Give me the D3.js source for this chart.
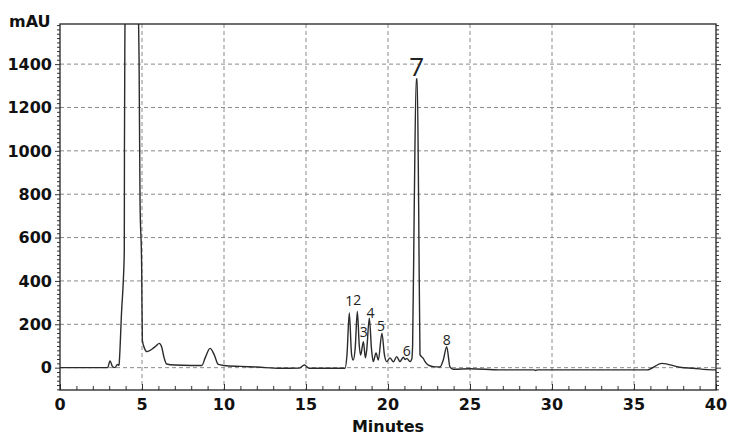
<!DOCTYPE html>
<html>
<head>
<meta charset="utf-8">
<script src="https://cdn.jsdelivr.net/npm/d3@7/dist/d3.min.js"></script>
<style>
  body { margin: 0; background: #fff; }
  svg { display: block; }
  .tick-label { font-family: "DejaVu Sans", sans-serif; font-weight: bold; font-size: 16px; fill: #111; }
  .peak-label { font-family: "Open Sans", sans-serif; font-size: 14px; fill: #222; }
</style>
</head>
<body>
<div id="chart"></div>
<script>
// chromatogram trace (minutes, mAU)
var times = [0, 2.9, 3.05, 3.2, 3.35, 3.5, 3.6, 3.62, 3.76, 3.86, 3.92, 3.93, 3.96, 4.0, 4.35, 4.72, 4.77, 4.82, 4.88, 4.98, 5.02,
  5.15, 5.3, 5.6, 5.85, 6.05, 6.2, 6.35, 6.5, 7.0, 8.0, 8.65, 8.85, 9.15, 9.4, 9.65, 10, 11, 12, 13.4,
  14.6, 14.9, 15.2, 17.38, 17.5, 17.64, 17.78, 17.88, 18.0, 18.13, 18.25, 18.33, 18.5, 18.62, 18.7, 18.86, 19.0, 19.1,
  19.27, 19.41, 19.63, 19.78, 19.92, 20.12, 20.33, 20.53, 20.73, 20.93, 21.04, 21.14, 21.34, 21.45, 21.5, 21.6, 21.72,
  21.78, 21.87, 21.95, 22.15, 22.26, 22.46, 22.76, 23.17, 23.37, 23.58, 23.78, 23.98, 25, 26.8, 28.9, 29.0, 29.1,
  35.8, 36.7, 37.8, 38.6, 39.8, 40];
var mau = [0, 0, 31, 5, 0, 15, 10, 30, 266, 400, 540, 1000, 1560, 1900, 3200, 1900, 1700, 1433, 773, 460, 127,
  90, 74, 85, 100, 112, 95, 45, 17, 12, 10, 10, 45, 89, 60, 15, 10, 6, 3, -3,
  -2, 12, -3, -3, 60, 252, 60, 35, 90, 259, 100, 58, 120, 45, 80, 228, 80, 28,
  68, 35, 159, 60, 28, 45, 27, 51, 28, 48, 38, 43, 28, 40, 100, 741, 1331,
  1331, 741, 60, 43, 28, 12, 5, 3, 35, 97, 3, -7, -5, -10, -10, -13, -10,
  -10, 20, 2, -3, -10, -10];

var peakNames = ["1", "2", "3", "4", "5", "6", "7", "8"];
var peakTimes = [17.64, 18.13, 18.52, 18.93, 19.58, 21.14, 21.75, 23.58];
var peakLabelY = [285, 290, 140, 230, 170, 55, 1345, 103];

var xTicks = [0, 5, 10, 15, 20, 25, 30, 35, 40];
var yTicks = [0, 200, 400, 600, 800, 1000, 1200, 1400];

var width = 729, height = 436;
var margin = {top: 24, right: 13, bottom: 46, left: 60};
var w = width - margin.left - margin.right;
var h = height - margin.top - margin.bottom;

var svg = d3.select("#chart").append("svg")
  .attr("width", width).attr("height", height);
var g = svg.append("g").attr("transform", "translate(" + margin.left + "," + margin.top + ")");

var x = d3.scaleLinear().domain([0, 40]).range([0, w]);
var y = d3.scaleLinear().domain([-103, 1585]).range([h, 0]);

// grid
g.append("g").selectAll("line").data(xTicks.slice(1, -1)).enter().append("line")
  .attr("x1", function(d) { return x(d); }).attr("x2", function(d) { return x(d); })
  .attr("y1", 0).attr("y2", h)
  .attr("stroke", "#8a8a8a").attr("stroke-dasharray", "4,3");
g.append("g").selectAll("line").data(yTicks).enter().append("line")
  .attr("y1", function(d) { return y(d); }).attr("y2", function(d) { return y(d); })
  .attr("x1", 0).attr("x2", w)
  .attr("stroke", "#8a8a8a").attr("stroke-dasharray", "4,3");

// axes: small ticks every 20 mAU on both sides, every minute along the bottom
var yMinor = d3.range(-100, 1590, 20);
var xMinor = d3.range(0, 41, 1);

var left = g.append("g").call(d3.axisLeft(y).tickValues(yMinor).tickSize(3).tickFormat(""));
var right = g.append("g").attr("transform", "translate(" + w + ",0)")
  .call(d3.axisRight(y).tickValues(yMinor).tickSize(3).tickFormat(""));
var bottom = g.append("g").attr("transform", "translate(0," + h + ")")
  .call(d3.axisBottom(x).tickValues(xMinor).tickSize(-4).tickFormat(""));
[left, right, bottom].forEach(function(a) {
  a.select(".domain").remove();
  a.selectAll(".tick line").attr("stroke", "#333");
});
left.selectAll(".tick line").filter(function(d) { return d % 200 === 0; }).attr("x2", -5);
right.selectAll(".tick line").filter(function(d) { return d % 200 === 0; }).attr("x2", 5);
bottom.selectAll(".tick line").filter(function(d) { return d % 5 === 0; }).attr("y2", -6);

g.selectAll(".ylab").data(yTicks).enter().append("text")
  .attr("class", "tick-label")
  .attr("x", -8).attr("y", function(d) { return y(d); })
  .attr("dy", "0.36em").attr("text-anchor", "end")
  .text(function(d) { return d; });
g.selectAll(".xlab").data(xTicks).enter().append("text")
  .attr("class", "tick-label")
  .attr("x", function(d) { return x(d); }).attr("y", h + 20)
  .attr("text-anchor", "middle")
  .text(function(d) { return d; });

svg.append("text").attr("class", "tick-label")
  .attr("x", 9).attr("y", 27).text("mAU");
svg.append("text").attr("class", "tick-label")
  .attr("x", margin.left + w / 2 + 0).attr("y", 432).attr("text-anchor", "middle").text("Minutes");

// trace
g.append("clipPath").attr("id", "clip").append("rect").attr("width", w).attr("height", h);
var pts = times.map(function(t, i) { return [t, mau[i]]; });
var line = d3.line().curve(d3.curveMonotoneX)
  .x(function(d) { return x(d[0]); }).y(function(d) { return y(d[1]); });
g.append("path").datum(pts)
  .attr("clip-path", "url(#clip)")
  .attr("d", line)
  .attr("fill", "none").attr("stroke", "#2b2b2b").attr("stroke-width", 1.4)
  .attr("stroke-linejoin", "round");

// frame
g.append("rect").attr("width", w).attr("height", h)
  .attr("fill", "none").attr("stroke", "#222").attr("stroke-width", 1.3);

// peak numbers
g.selectAll(".peak").data(peakNames).enter().append("text")
  .attr("class", "peak-label")
  .attr("x", function(d, i) { return x(peakTimes[i]); })
  .attr("y", function(d, i) { return y(peakLabelY[i]); })
  .attr("text-anchor", "middle")
  .style("font-size", function(d) { return d === "7" ? "26px" : "14px"; })
  .text(function(d) { return d; });
</script>
</body>
</html>
